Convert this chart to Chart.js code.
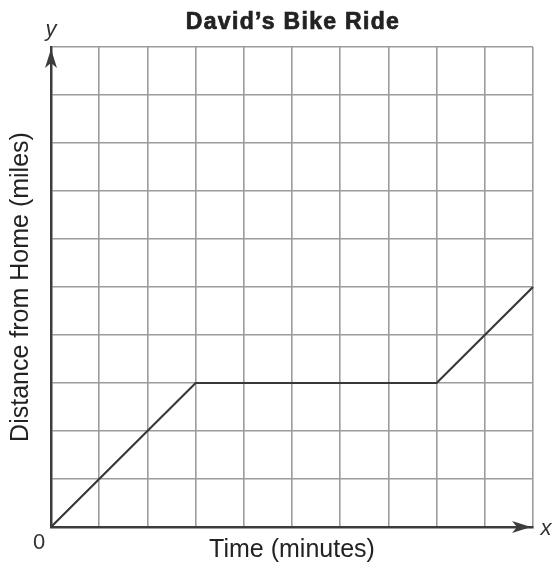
<!DOCTYPE html>
<html>
<head>
<meta charset="utf-8">
<script src="https://cdn.jsdelivr.net/npm/chart.js@4/dist/chart.umd.min.js"></script>
<style>
  html, body { margin: 0; padding: 0; background: #fff; }
  #wrap { width: 553px; height: 567px; }
</style>
</head>
<body>
<div id="wrap"><canvas id="chart" width="553" height="567"></canvas></div>
<script>
// David's bike ride: time (grid units) vs distance from home (grid units)
const times = [0, 3, 8, 10]
const distances = [0, 3, 3, 5]
const chartTitle = "David\u2019s Bike Ride"
const xTitle = "Time (minutes)"
const yTitle = "Distance from Home (miles)"

const font = "'Liberation Sans', Arial, sans-serif"
const axisColor = '#3c3c3c'

// title, arrows and the x / y / 0 labels
const decorations = {
  id: 'decorations',
  afterDraw(chart) {
    const { ctx, chartArea: a } = chart
    ctx.save()
    ctx.fillStyle = '#222'
    ctx.strokeStyle = '#222'
    ctx.lineWidth = 0.7
    ctx.textAlign = 'center'
    ctx.textBaseline = 'middle'
    ctx.font = "bold 23px " + font
    ctx.letterSpacing = '1.3px'
    ctx.fillText(chartTitle, (a.left + a.right) / 2 + 1, 23)
    ctx.strokeText(chartTitle, (a.left + a.right) / 2 + 1, 23)
    ctx.letterSpacing = '0px'

    // arrow heads on the axes
    ctx.fillStyle = axisColor
    ctx.beginPath()
    ctx.moveTo(a.left, a.top + 2)
    ctx.lineTo(a.left - 6, a.top + 21)
    ctx.lineTo(a.left, a.top + 16)
    ctx.lineTo(a.left + 6, a.top + 21)
    ctx.closePath()
    ctx.fill()
    ctx.beginPath()
    ctx.moveTo(a.right - 2, a.bottom)
    ctx.lineTo(a.right - 21, a.bottom - 6)
    ctx.lineTo(a.right - 16, a.bottom)
    ctx.lineTo(a.right - 21, a.bottom + 6)
    ctx.closePath()
    ctx.fill()

    ctx.fillStyle = '#333'
    ctx.font = "italic 22px " + font
    ctx.fillText('y', a.left, a.top - 17)
    ctx.fillText('x', a.right + 13, a.bottom + 2)
    ctx.font = "22px " + font
    ctx.fillText('0', a.left - 12, a.bottom + 16)
    ctx.restore()
  }
}

let ctx = document.getElementById('chart').getContext('2d')
let myChart = new Chart(ctx, {
  type: 'line',
  data: {
    datasets: [{
      data: times.map((t, i) => ({ x: t, y: distances[i] })),
      borderColor: '#383838',
      borderWidth: 2.2,
      pointRadius: 0,
      tension: 0,
      clip: false,
    }]
  },
  options: {
    responsive: false,
    animation: false,
    layout: { padding: { top: 47, right: 20, left: 0, bottom: 0 } },
    plugins: {
      legend: { display: false },
      tooltip: { enabled: false },
    },
    scales: {
      x: {
        type: 'linear',
        min: 0,
        max: 10,
        ticks: { display: false, stepSize: 1 },
        grid: { color: '#9c9c9c', lineWidth: 1.6, drawTicks: false },
        border: { color: axisColor, width: 2.5 },
        title: {
          display: true,
          text: xTitle,
          color: '#222',
          font: { family: font, size: 25 },
          padding: { top: 0, bottom: 2 },
        },
        afterFit(scale) { scale.height = 40 },
      },
      y: {
        type: 'linear',
        min: 0,
        max: 10,
        ticks: { display: false, stepSize: 1 },
        grid: { color: '#9c9c9c', lineWidth: 1.6, drawTicks: false },
        border: { color: axisColor, width: 2.5 },
        title: {
          display: true,
          text: yTitle,
          color: '#222',
          font: { family: font, size: 25 },
          padding: { top: 6, bottom: 0 },
        },
        afterFit(scale) { scale.width = 51 },
      },
    },
  },
  plugins: [decorations],
})
</script>
</body>
</html>
